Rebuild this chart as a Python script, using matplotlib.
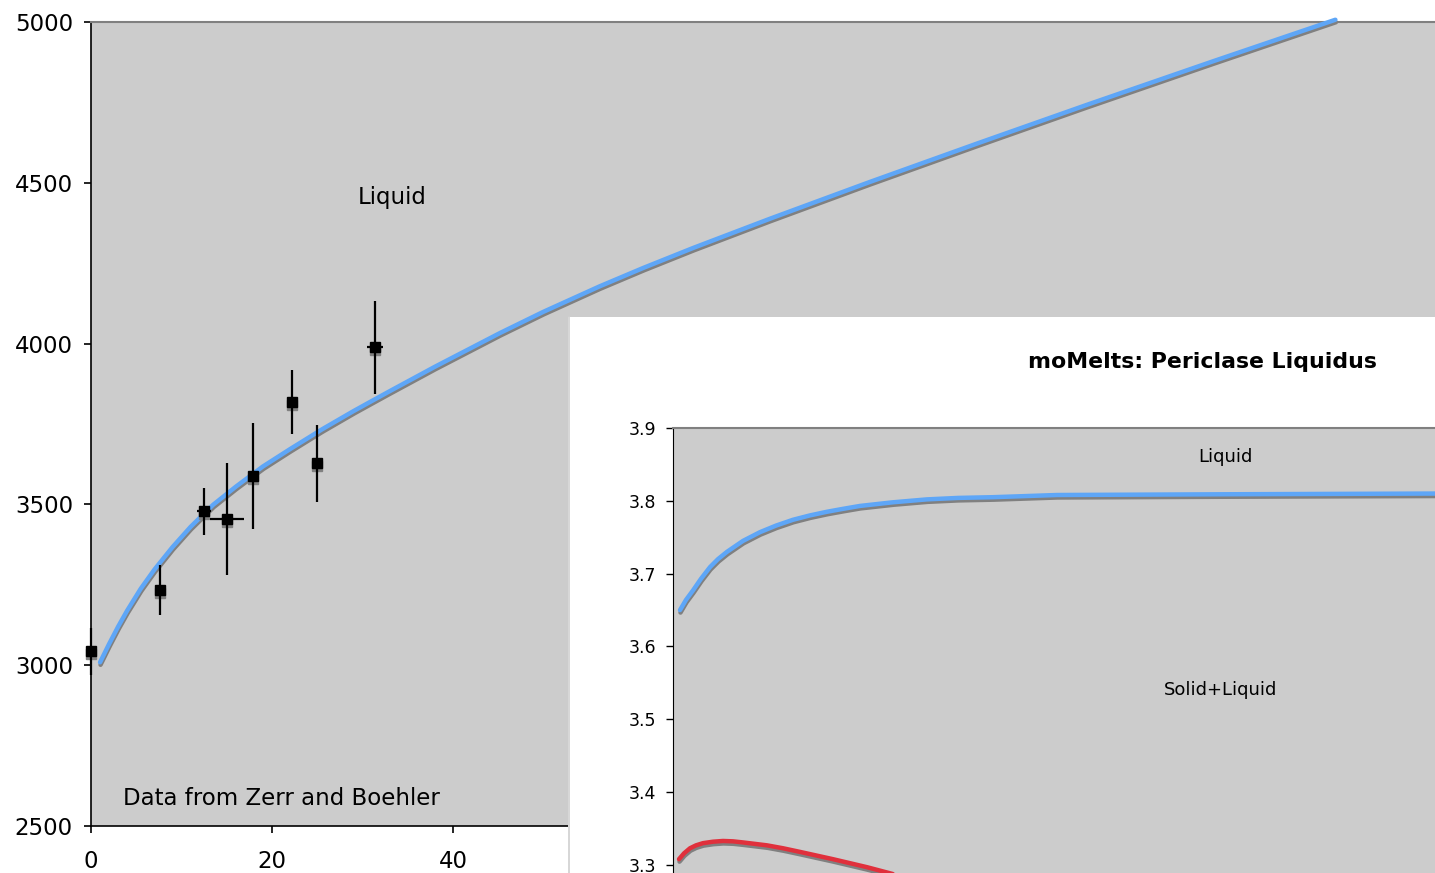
import matplotlib
matplotlib.use("Agg")
import matplotlib.pyplot as plt
from matplotlib.transforms import offset_copy
from matplotlib.patches import Rectangle
from matplotlib.lines import Line2D

# ---- main chart data (pressure GPa, temperature K) ----
curve_p = [1, 2, 3, 4, 5.5, 7, 9, 11, 13.5, 16, 19, 22, 25.5, 29, 30.8, 33,
           38, 45.2, 50, 56.2, 61, 66.5, 75, 86, 98, 110, 124, 137.5]
curve_t = [3009, 3066, 3120, 3170, 3238, 3297, 3367, 3430, 3499, 3555, 3618,
           3672, 3733, 3790, 3818, 3852, 3928, 4033, 4099, 4178, 4235, 4297,
           4388, 4502, 4623, 4742, 4878, 5007]

data_p = [0.0, 7.6, 12.5, 15.0, 17.9, 22.2, 25.0, 31.4]
data_t = [3043, 3233, 3479, 3454, 3588, 3818, 3628, 3989]
data_terr = [73, 78, 73, 174, 166, 100, 120, 145]
data_perr = [0.0, 0.0, 0.8, 1.9, 0.0, 0.0, 0.5, 0.9]

# ticks further right are hidden behind the inset panel in the reference
main_xticks = [0, 20, 40]
main_yticks = [2500, 3000, 3500, 4000, 4500, 5000]

# ---- inset data ----
liq_x = [0.7, 1.3, 2.0, 2.8, 3.7, 4.5, 5.4, 7.0, 8.7, 10.3, 12.0, 13.7, 15.4,
         17.0, 18.7, 22.0, 25.4, 28.5, 32.0, 38.4, 55.0, 76.2, 90.0]
liq_y = [3.650, 3.664, 3.677, 3.693, 3.709, 3.720, 3.730, 3.745, 3.757, 3.766,
         3.774, 3.780, 3.785, 3.789, 3.793, 3.798, 3.802, 3.804, 3.805, 3.808,
         3.809, 3.810, 3.810]
sol_x = [0.6, 1.1, 1.7, 2.3, 3.0, 4.0, 5.0, 6.0, 7.0, 8.2, 9.4, 11.0, 12.7,
         16.0, 19.4, 22.7]
sol_y = [3.308, 3.316, 3.323, 3.327, 3.330, 3.332, 3.333, 3.3325, 3.331,
         3.329, 3.327, 3.323, 3.318, 3.308, 3.297, 3.285]
inset_yticks = [3.3, 3.4, 3.5, 3.6, 3.7, 3.8, 3.9]

BG = "#cccccc"
BLUE = "#5ea6f7"
RED = "#e0303c"
SHADOW = "#808080"

W, H = 1435, 873
fig = plt.figure(figsize=(W / 100, H / 100), dpi=100)
fig.patch.set_facecolor("white")

def fx(px):
    return px / W

def fy(py):
    return 1 - py / H

# main axes: left 91, right at figure edge, top 22, bottom 826
ax = fig.add_axes([fx(91), fy(826), 1 - fx(91), fy(22) - fy(826)])
ax.set_facecolor(BG)
ax.set_xlim(0, (W - 91) / 9.05)
ax.set_ylim(2500, 5000)
ax.set_xticks(main_xticks)
ax.set_yticks(main_yticks)
ax.tick_params(labelsize=16.5, length=5, width=1.2, color="black")
ax.tick_params(axis="y", pad=8)
ax.tick_params(axis="x", pad=12)
for s in ["left", "bottom"]:
    ax.spines[s].set_color("black")
    ax.spines[s].set_linewidth(1.2)
ax.spines["top"].set_color("#808080")
ax.spines["top"].set_linewidth(1.5)
ax.spines["right"].set_visible(False)

sh_line = offset_copy(ax.transData, fig=fig, x=0.5, y=-2.5, units="dots")
ax.plot(curve_p, curve_t, color=SHADOW, lw=3.2, solid_capstyle="round",
        solid_joinstyle="round", transform=sh_line, clip_on=False, zorder=2)
ax.plot(curve_p, curve_t, color=BLUE, lw=3.2, solid_capstyle="round",
        solid_joinstyle="round", clip_on=False, zorder=3)

sh_mk = offset_copy(ax.transData, fig=fig, x=0, y=-3, units="dots")
ax.plot(data_p, data_t, ls="none", marker="s", ms=7.5, color=SHADOW,
        mec=SHADOW, transform=sh_mk, zorder=4, clip_on=False)
ax.errorbar(data_p, data_t, yerr=data_terr, xerr=data_perr, fmt="s", ms=7.5,
            color="black", ecolor="black", elinewidth=1.6, capsize=0,
            zorder=5, clip_on=False)

ax.text(33.3, 4453, "Liquid", fontsize=16.5, ha="center", va="center")
ax.text(3.5, 2585, "Data from Zerr and Boehler", fontsize=16.5, ha="left",
        va="center")

# white inset box
fig.patches.append(Rectangle((fx(568), 0), 1 - fx(568), fy(317), transform=fig.transFigure,
                             facecolor="white", edgecolor="none", zorder=10))
fig.lines.append(Line2D([fx(569), fx(569)], [0, fy(317)], transform=fig.transFigure,
                        color="#cfcfcf", lw=1.2, zorder=11))

fig.text(fx(1202), fy(362), "moMelts: Periclase Liquidus", fontsize=15.8,
         fontweight="bold", ha="center", va="center", zorder=12)

# inset axes: left 673, top 428; y 3.9 at 428, 3.3 at 865
px_per = (865 - 428) / 0.6
bot_px = 428 + 0.7 * px_per
iax = fig.add_axes([fx(673), fy(bot_px), (1673 - 673) / W, fy(428) - fy(bot_px)])
iax.set_zorder(13)
iax.set_facecolor(BG)
iax.set_xlim(0, 100)
iax.set_ylim(3.2, 3.9)
iax.set_yticks(inset_yticks)
iax.set_yticklabels([f"{v:.1f}" for v in inset_yticks])
iax.set_xticks([])
iax.tick_params(labelsize=12.5, length=5, width=1.0, pad=7)
iax.spines["left"].set_color("black")
iax.spines["top"].set_color("#808080")
iax.spines["top"].set_linewidth(1.5)
iax.spines["right"].set_visible(False)
iax.spines["bottom"].set_visible(False)

ish = offset_copy(iax.transData, fig=fig, x=0.5, y=-2.5, units="dots")
iax.plot(liq_x, liq_y, color=SHADOW, lw=3.2, solid_capstyle="round",
         solid_joinstyle="round", transform=ish)
iax.plot(liq_x, liq_y, color=BLUE, lw=3.2, solid_capstyle="round",
         solid_joinstyle="round")
iax.plot(sol_x, sol_y, color=SHADOW, lw=3.2, solid_capstyle="round",
         solid_joinstyle="round", transform=ish)
iax.plot(sol_x, sol_y, color=RED, lw=3.2, solid_capstyle="round",
         solid_joinstyle="round")

iax.text(55.2, 3.9 - (457 - 428) / px_per, "Liquid", fontsize=13,
         ha="center", va="center")
iax.text(54.8, 3.9 - (690 - 428) / px_per, "Solid+Liquid", fontsize=13,
         ha="center", va="center")

fig.savefig("out.png", dpi=100)
